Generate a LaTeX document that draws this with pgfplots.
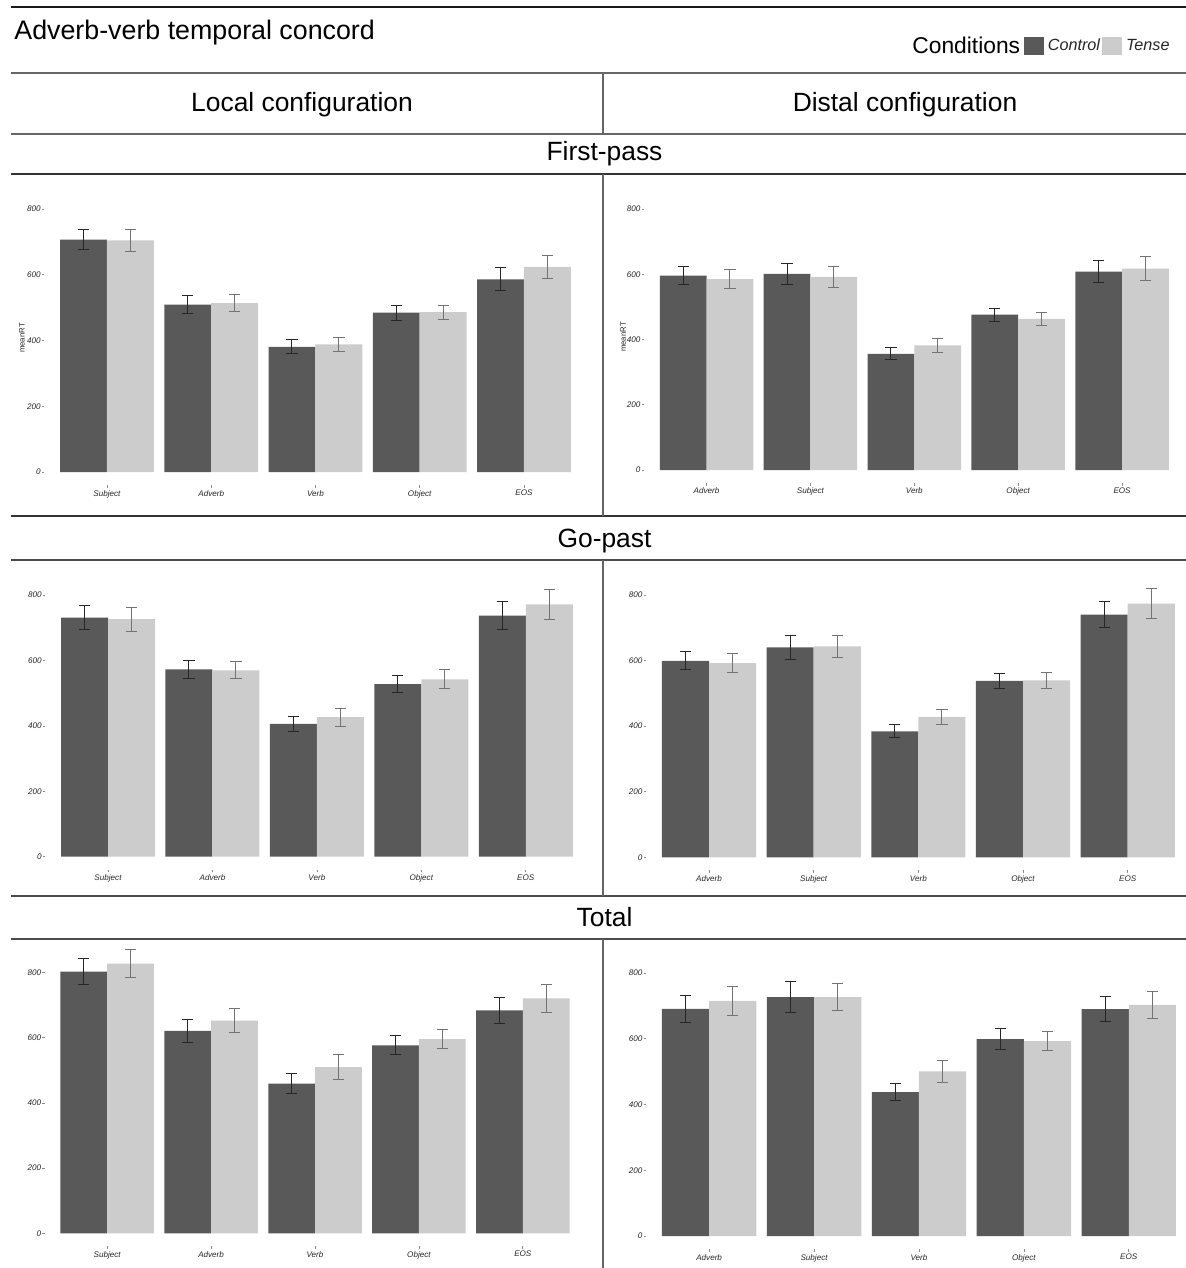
\documentclass[border=0pt]{standalone}
\usepackage{fontspec}
\setmainfont{Liberation Sans}
\usepackage{pgfplots}
\usepackage{pgfplotstable}
\pgfplotsset{compat=1.18}
\definecolor{ctl}{HTML}{595959}
\definecolor{tns}{HTML}{CCCCCC}

% x: category index, c/ce: Control mean/error, t/te: Tense mean/error
% Local, First-pass (Subject, Adverb, Verb, Object, EOS)
\pgfplotstableread{
x c ce t te
0 707 31 705 34
1 509 27 514 25
2 381 21 388 22
3 485 23 486 22
4 586 35 624 34
}\tabLF
% Distal, First-pass (Adverb, Subject, Verb, Object, EOS)
\pgfplotstableread{
x c ce t te
0 596 27.5 585 28.5
1 601 32 592 32
2 356 18 382 22
3 476 20 463 19.5
4 608 33 617 36
}\tabDF
% Local, Go-past
\pgfplotstableread{
x c ce t te
0 731 36 726 36.6
1 573 28 570 26
2 406 24 427 27.5
3 528 25.5 542 29
4 737 42 771.5 45
}\tabLG
% Distal, Go-past
\pgfplotstableread{
x c ce t te
0 599 27.5 592 29
1 640 35.5 643 34
2 384 20 428 24
3 538 22.5 540 24.5
4 740 39 774 45
}\tabDG
% Local, Total
\pgfplotstableread{
x c ce t te
0 803 39 828 42
1 621 35 653 38
2 459 30 510 39
3 577 29 596 29
4 684 40 721 43
}\tabLT
% Distal, Total
\pgfplotstableread{
x c ce t te
0 691 40 715 42.7
1 727 47 727 42
2 438 27 501 33
3 599 33 593 28.5
4 690 38 703 41
}\tabDT

\pgfplotsset{
  panel/.style={
    scale only axis, ybar, bar width=0.45,
    xmin=-0.6, xmax=4.6, ymin=-40, ymax=850, clip=false,
    axis lines*=left, axis line style={draw=none},
    xtick={0,1,2,3,4}, ytick={0,200,400,600,800},
    tick align=outside, major tick length=1.3pt,
    tick style={draw=black!45, line width=0.35pt},
    tick label style={font=\fontsize{4.05}{4.8}\selectfont\itshape, text=black!85},
    /pgf/number format/assume math mode=true,
    yticklabel style={inner sep=0.4pt},
    xticklabel style={inner sep=1pt},
  },
  localticks/.style={xticklabels={Subject,Adverb,Verb,Object,EOS}},
  distalticks/.style={xticklabels={Adverb,Subject,Verb,Object,EOS}},
  rtlabel/.style={ylabel={meanRT}, ylabel style={at={(axis description cs:#1,0.503)}, anchor=center, font=\fontsize{3.9}{5}\selectfont, text=black!85}},
  ctlbar/.style={fill=ctl, draw=none, bar shift=-0.225,
    error bars/.cd, y dir=both, y explicit,
    error bar style={line width=0.5pt, draw=black!85},
    error mark options={rotate=90, line width=0.5pt, draw=black!85, mark size=2.8pt}},
  tnsbar/.style={fill=tns, draw=none, bar shift=0.225,
    error bars/.cd, y dir=both, y explicit,
    error bar style={line width=0.5pt, draw=black!55},
    error mark options={rotate=90, line width=0.5pt, draw=black!55, mark size=2.8pt}},
  sqlegend/.style={legend image code/.code={\fill[##1] (0pt,-4.5pt) rectangle (10pt,4.5pt);}},
}

\begin{document}
\begin{tikzpicture}
\path[use as bounding box] (0pt,0pt) rectangle (593pt,-634pt);

\begin{scope}[x=0.5pt,y=-0.5pt]
  \draw[line width=1pt, black!90] (11,7) -- (1186,7);
  \draw[line width=1pt, black!60] (11,73) -- (1186,73);
  \draw[line width=1pt, black!60] (11,134) -- (1186,134);
  \draw[line width=1pt, black!80] (11,174) -- (1186,174);
  \draw[line width=1pt, black!80] (11,516) -- (1186,516);
  \draw[line width=1pt, black!70] (11,560) -- (1186,560);
  \draw[line width=1pt, black!70] (11,895.5) -- (1186,895.5);
  \draw[line width=1pt, black!70] (11,938.5) -- (1186,938.5);
  \draw[line width=1pt, black!60] (603,73) -- (603,134);
  \draw[line width=1pt, black!60] (603,174) -- (603,516);
  \draw[line width=1pt, black!60] (603,560) -- (603,895.5);
  \draw[line width=1pt, black!60] (603,938.5) -- (603,1268);

  \node[anchor=base west, inner sep=0pt, font=\fontsize{13.4}{15}\selectfont] at (14,39.5) {Adverb-verb temporal concord};
  \node[anchor=base west, inner sep=0pt, font=\fontsize{11.4}{13}\selectfont] at (912,54) {Conditions};
  \node[anchor=base, inner sep=0pt, font=\fontsize{13.2}{15}\selectfont] at (302,112) {Local configuration};
  \node[anchor=base, inner sep=0pt, font=\fontsize{13.2}{15}\selectfont] at (905,112) {Distal configuration};
  \node[anchor=base, inner sep=0pt, font=\fontsize{13.2}{15}\selectfont] at (604.5,161) {First-pass};
  \node[anchor=base, inner sep=0pt, font=\fontsize{13.2}{15}\selectfont] at (604.5,547) {Go-past};
  \node[anchor=base, inner sep=0pt, font=\fontsize{13.2}{15}\selectfont] at (604.5,926) {Total};
\end{scope}

% Row 1: First-pass
\begin{axis}[panel, localticks, rtlabel=-0.0414, at={(22.2pt,-242.58pt)}, anchor=south west, width=271.05pt, height=146.3pt]
  \addplot[ctlbar] table[x=x, y=c, y error=ce] {\tabLF};
  \addplot[tnsbar] table[x=x, y=t, y error=te] {\tabLF};
\end{axis}
\begin{axis}[panel, distalticks, rtlabel=-0.039, at={(322.1pt,-241.53pt)}, anchor=south west, width=270.1pt, height=145.2pt,
  legend style={at={(0.977,1.505)}, anchor=east, draw=none, fill=none, inner sep=0pt,
    legend columns=-1, font=\fontsize{8.1}{9.5}\selectfont\itshape, text=black!85,
    nodes={inner sep=1pt}, /tikz/every odd column/.append style={column sep=1pt}},
  legend cell align=left]
  \addplot[sqlegend, ctlbar] table[x=x, y=c, y error=ce] {\tabDF};
  \addlegendentry{Control}
  \addplot[sqlegend, tnsbar] table[x=x, y=t, y error=te] {\tabDF};
  \addlegendentry{Tense}
\end{axis}

% Row 2: Go-past
\begin{axis}[panel, localticks, at={(22.67pt,-434.89pt)}, anchor=south west, width=271.55pt, height=145.56pt]
  \addplot[ctlbar] table[x=x, y=c, y error=ce] {\tabLG};
  \addplot[tnsbar] table[x=x, y=t, y error=te] {\tabLG};
\end{axis}
\begin{axis}[panel, distalticks, at={(323.1pt,-435.2pt)}, anchor=south west, width=272.15pt, height=145.9pt]
  \addplot[ctlbar] table[x=x, y=c, y error=ce] {\tabDG};
  \addplot[tnsbar] table[x=x, y=t, y error=te] {\tabDG};
\end{axis}

% Row 3: Total
\begin{axis}[panel, localticks, at={(22.43pt,-623.16pt)}, anchor=south west, width=270.15pt, height=145pt]
  \addplot[ctlbar] table[x=x, y=c, y error=ce] {\tabLT};
  \addplot[tnsbar] table[x=x, y=t, y error=te] {\tabLT};
\end{axis}
\begin{axis}[panel, distalticks, at={(323.1pt,-624.58pt)}, anchor=south west, width=272.75pt, height=146.3pt]
  \addplot[ctlbar] table[x=x, y=c, y error=ce] {\tabDT};
  \addplot[tnsbar] table[x=x, y=t, y error=te] {\tabDT};
\end{axis}
\end{tikzpicture}
\end{document}
